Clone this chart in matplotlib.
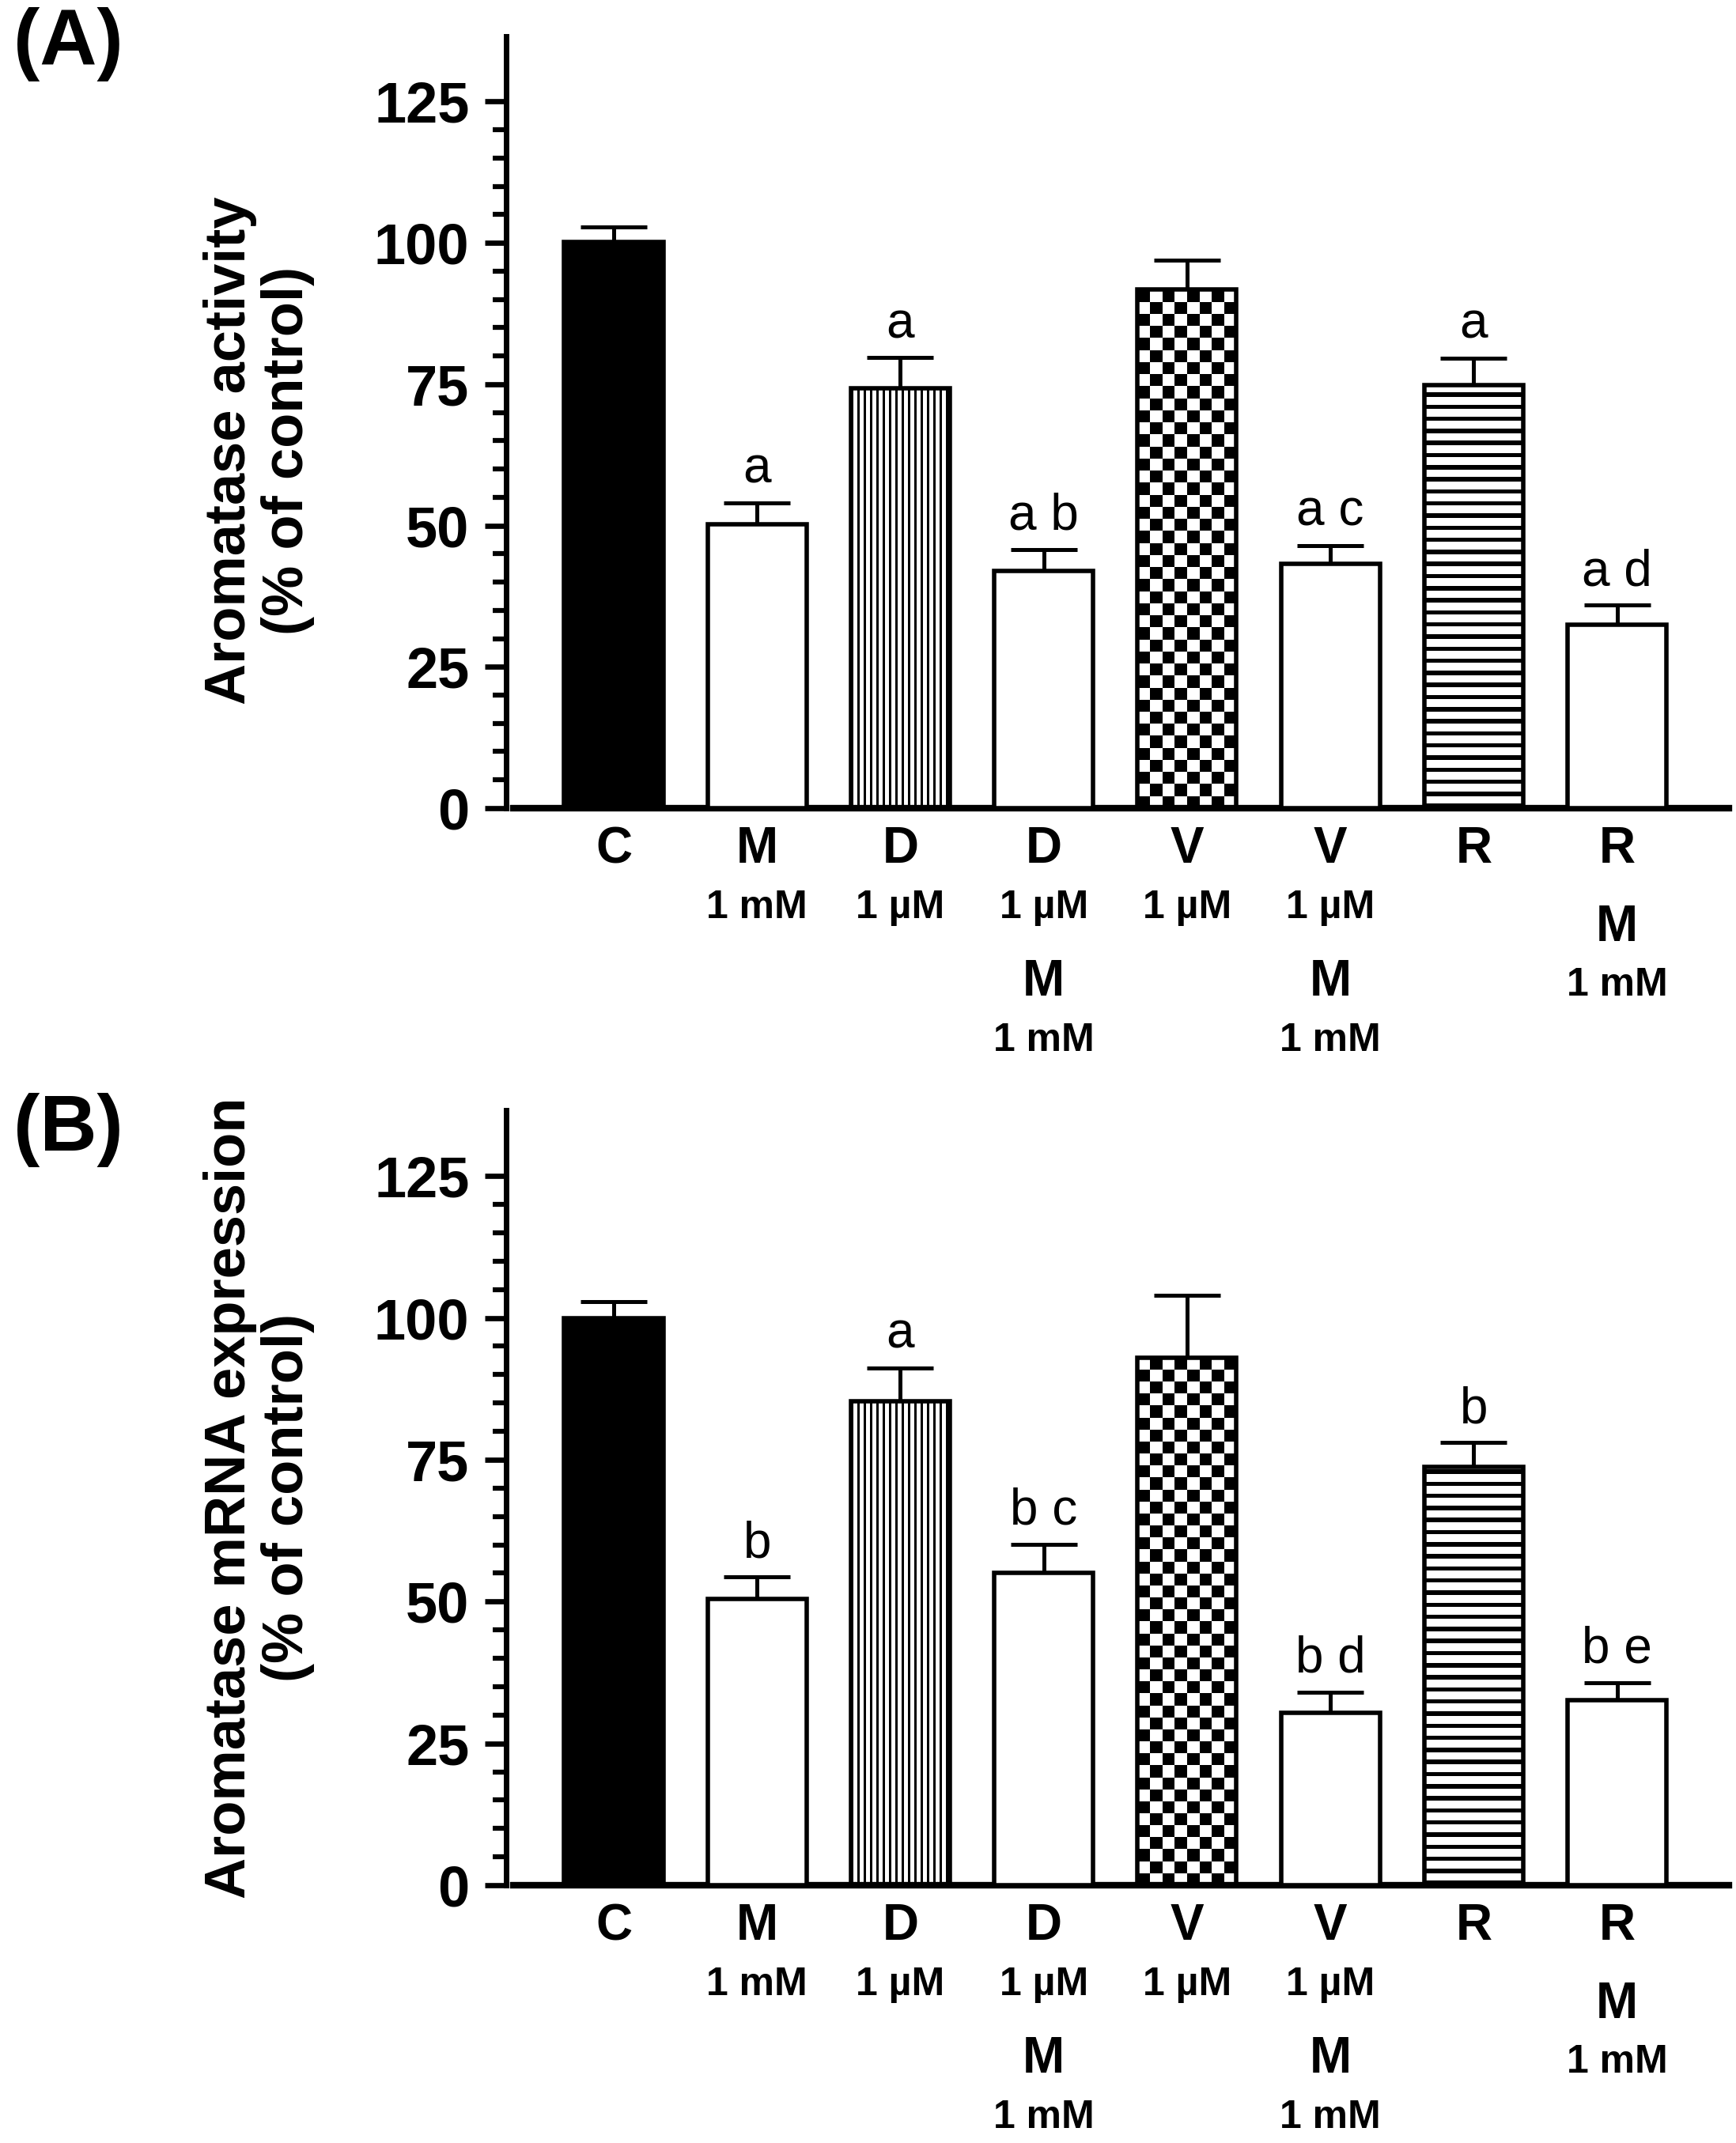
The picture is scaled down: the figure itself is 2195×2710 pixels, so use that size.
import numpy as np
import matplotlib
matplotlib.use("Agg")
import matplotlib.pyplot as plt
from matplotlib.ticker import FixedLocator

plt.rcParams['font.family'] = ['Liberation Sans', 'DejaVu Sans']

# ---- data ----
categories = ["C", "M", "D", "D+M", "V", "V+M", "R", "R+M"]
fills = ["solid", "open", "vstripe", "open", "checker", "open", "hstripe", "open"]

activity_mean = [100.2, 50.2, 74.3, 41.9, 91.7, 43.2, 74.9, 32.5]
activity_sem = [2.6, 3.8, 5.4, 3.9, 5.2, 3.3, 4.7, 3.4]
activity_letters = ["", "a", "a", "a b", "", "a c", "a", "a d"]

mrna_mean = [100.0, 50.5, 85.3, 55.0, 93.0, 30.4, 73.7, 32.6]
mrna_sem = [2.9, 3.8, 5.9, 5.1, 11.0, 3.6, 4.3, 3.1]
mrna_letters = ["", "b", "a", "b c", "", "b d", "b", "b e"]

# (agent, dose) stacks under each bar
xlabels = [
    [("C", "")],
    [("M", "1 mM")],
    [("D", "1 µM")],
    [("D", "1 µM"), ("M", "1 mM")],
    [("V", "1 µM")],
    [("V", "1 µM"), ("M", "1 mM")],
    [("R", "")],
    [("R", ""), ("M", "1 mM")],
]

yticks = [0, 25, 50, 75, 100, 125]
yminor = [v for v in range(0, 126, 5) if v % 25]

DPI = 100


def stripe_edges(length_px, period, line):
    k = np.arange(int(length_px // period) + 2) * period
    e = np.sort(np.concatenate([k, k + line]))
    e = e[e < length_px]
    return np.append(e, length_px)


def fill_pattern(ax, bar, kind):
    x0, w, h = bar.get_x(), bar.get_width(), bar.get_height()
    (px0, py0), (px1, py1) = ax.transData.transform([(x0, 0), (x0 + w, h)])
    wpx, hpx = px1 - px0, py1 - py0
    if kind == "checker":
        cell = 15.3
        nx, ny = max(1, round(wpx / cell)), max(1, round(hpx / cell))
        xe = np.linspace(x0, x0 + w, nx + 1)
        ye = np.linspace(0, h, ny + 1)
        cells = np.indices((ny, nx)).sum(axis=0) % 2
    elif kind == "vstripe":
        e = stripe_edges(wpx, 8.0, 3.0)
        xe = x0 + e / wpx * w
        ye = np.array([0, h])
        cells = (np.arange(len(xe) - 1) % 2)[None, :]
    else:  # horizontal stripes
        e = stripe_edges(hpx, 15.3, 5.5)
        ye = e / hpx * h
        xe = np.array([x0, x0 + w])
        cells = (np.arange(len(ye) - 1) % 2)[:, None]
    mesh = ax.pcolormesh(xe, ye, cells, cmap="gray", vmin=0, vmax=1,
                         shading="flat", zorder=2)
    mesh.set_clip_path(bar)
    bar.set_facecolor("none")


def draw_panel(ax, means, sems, letters, ylabel, label_y):
    x = np.arange(len(categories))
    ax.set_xlim(-0.75, 7.78)
    ax.set_ylim(0, 136.6)

    bars = ax.bar(x, means, width=0.69, color="white", edgecolor="black",
                  linewidth=4, zorder=3)
    ax.errorbar(x, means, yerr=[np.zeros(len(x)), sems], fmt="none",
                ecolor="black", elinewidth=3.6, capsize=30, capthick=3.6,
                zorder=1.5)

    for bar, kind in zip(bars, fills):
        if kind == "solid":
            bar.set_facecolor("black")
        elif kind != "open":
            fill_pattern(ax, bar, kind)

    for xi, m, s, lab in zip(x, means, sems, letters):
        if lab:
            ax.text(xi, m + s + 3.5, lab, ha="center", va="baseline", fontsize=46)

    # spines / ticks, Prism style
    for side in ("top", "right"):
        ax.spines[side].set_visible(False)
    ax.spines["left"].set_linewidth(5)
    ax.spines["bottom"].set_linewidth(6)
    ax.spines["bottom"].set_bounds(-0.70, 7.78)

    ax.set_yticks(yticks)
    ax.yaxis.set_minor_locator(FixedLocator(yminor))
    ax.tick_params(axis="y", which="major", direction="out", length=19.5,
                   width=4.8, pad=14, labelsize=52)
    ax.tick_params(axis="y", which="minor", direction="out", length=12, width=4.5)
    for t in ax.get_yticklabels():
        t.set_fontweight("bold")
    ax.set_xticks(x)
    ax.tick_params(axis="x", length=0, labelbottom=False)

    ax.set_ylabel(ylabel, fontsize=52, fontweight="bold", linespacing=1.1)
    ax.yaxis.set_label_coords(-0.1565, label_y)

    # stacked treatment labels below the axis
    for xi, stack in zip(x, xlabels):
        off = 50
        for agent, dose in stack:
            ax.annotate(agent, (xi, 0), xytext=(0, -off), textcoords="offset points",
                        ha="center", va="baseline", fontsize=46, fontweight="bold",
                        annotation_clip=False)
            if dose:
                off += 50
                ax.annotate(dose, (xi, 0), xytext=(0, -off), textcoords="offset points",
                            ha="center", va="baseline", fontsize=36, fontweight="bold",
                            annotation_clip=False)
            off += 71


fig = plt.figure(figsize=(2195 / DPI, 2710 / DPI), dpi=DPI)
ax_a = fig.add_axes([0.2916, 0.6229, 0.7043, 0.3603])
ax_b = fig.add_axes([0.2916, 0.1203, 0.7043, 0.3616])

draw_panel(ax_a, activity_mean, activity_sem, activity_letters,
           "Aromatase activity\n(% of control)", 0.463)
draw_panel(ax_b, mrna_mean, mrna_sem, mrna_letters,
           "Aromatase mRNA expression\n(% of control)", 0.50)

fig.text(17 / 2195, 1 - 9 / 2710, "(A)", fontsize=72, fontweight="bold", va="top", ha="left")
fig.text(17 / 2195, 1 - 1382 / 2710, "(B)", fontsize=72, fontweight="bold", va="top", ha="left")

fig.savefig("out.png", dpi=DPI, facecolor="white")
